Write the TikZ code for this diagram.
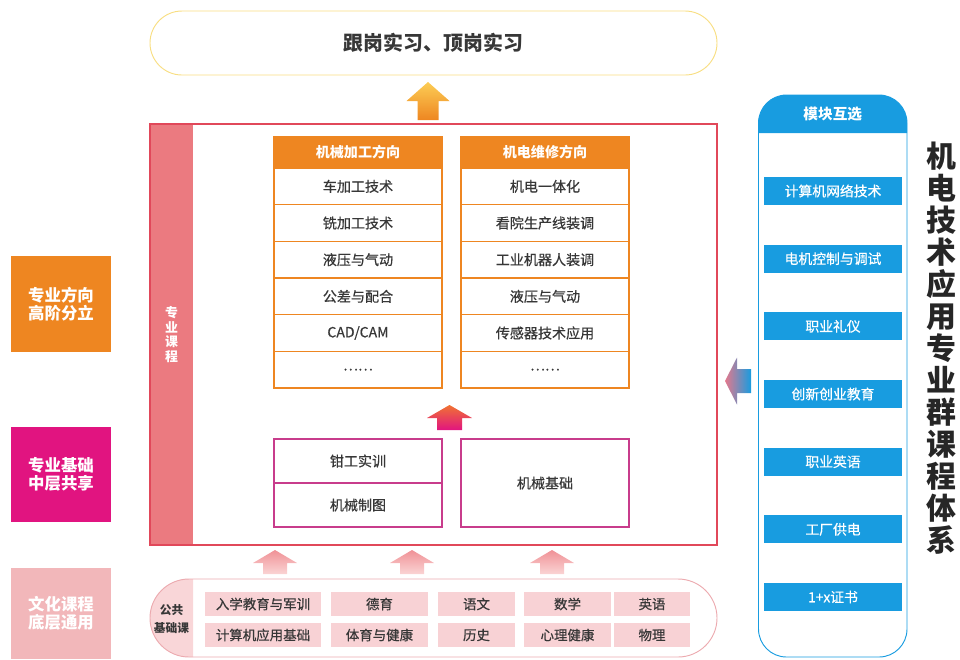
\documentclass[tikz,border=0pt]{standalone}
\usepackage{fontspec}
\setmainfont{Noto Sans CJK SC}[UprightFeatures={FakeBold=0.5}]
\usetikzlibrary{positioning}

\definecolor{dirorange}{RGB}{238,134,33}
\definecolor{basemag}{RGB}{225,20,128}
\definecolor{culpink}{RGB}{242,183,186}
\definecolor{bandred}{RGB}{235,122,128}
\definecolor{framered}{RGB}{225,72,90}
\definecolor{modblue}{RGB}{24,156,224}
\definecolor{cellpink}{RGB}{248,210,213}
\definecolor{publine}{RGB}{236,170,175}
\definecolor{pubfill}{RGB}{249,214,216}
\definecolor{basebd}{RGB}{200,60,140}
\definecolor{topline}{RGB}{248,222,130}
\definecolor{darktext}{RGB}{55,55,55}
\definecolor{arrowyel}{RGB}{252,205,85}
\definecolor{arroworg}{RGB}{240,115,50}
\definecolor{arrowtop}{RGB}{240,145,150}
\definecolor{arrowbot}{RGB}{250,212,212}
\definecolor{arrowpink}{RGB}{228,120,140}

\begin{document}
\begin{tikzpicture}[x=0.3mm, y=-0.3mm, every node/.style={outer sep=0pt},
  course/.style={draw=dirorange, line width=1pt, fill=white, minimum width=50.4mm, minimum height=11mm, inner sep=0pt, text=darktext, font=\fontsize{12}{14}\selectfont},
  dirhead/.style={course, fill=dirorange, minimum height=9.3mm, text=white, font=\fontsize{12}{14}\selectfont\bfseries},
  basecourse/.style={draw=basebd, line width=1pt, minimum width=50.4mm, minimum height=13.2mm, inner sep=0pt, text=darktext, font=\fontsize{12}{14}\selectfont},
  layer/.style={minimum width=30mm, inner sep=0pt, text=white, align=center, font=\fontsize{14}{15.5}\selectfont\bfseries},
  pubcell/.style={fill=cellpink, minimum height=7.2mm, inner sep=0pt, text=darktext, font=\fontsize{11.5}{13}\selectfont},
  module/.style={fill=modblue, minimum width=41.4mm, minimum height=8.4mm, inner sep=0pt, text=white, font=\fontsize{11.8}{13}\selectfont}]

\useasboundingbox (0,0) rectangle (960,659);

\node[draw=topline, line width=0.8pt, rounded corners=9.6mm, minimum width=170.1mm, minimum height=19.2mm, text=darktext, font=\fontsize{17}{20}\selectfont\bfseries] (intern) at (433.5,43) {跟岗实习、顶岗实习};

\shade[top color=arrowyel, bottom color=dirorange] (428,82) -- ++(21.5,19) -- ++(-11,0) -- ++(0,19) -- ++(-21,0) -- ++(0,-19) -- ++(-11,0) -- cycle;

\node[fill=bandred, minimum width=12.9mm, minimum height=126.3mm, text=white, align=center, font=\fontsize{11}{12.4}\selectfont\bfseries] (majorband) at (171.5,334.5) {专\\业\\课\\程};
\node[draw=framered, line width=1.2pt, minimum width=170.1mm, minimum height=126.3mm] (major) at (433.5,334.5) {};

\node[dirhead] (machhead) at (358,152.5) {机械加工方向};
\node[course, below=0pt of machhead] (mach1) {车加工技术};
\node[course, below=0pt of mach1] (mach2) {铣加工技术};
\node[course, below=0pt of mach2] (mach3) {液压与气动};
\node[course, below=0pt of mach3] (mach4) {公差与配合};
\node[course, below=0pt of mach4] (mach5) {CAD/CAM};
\node[course, below=0pt of mach5] (mach6) {……};

\node[dirhead] (elechead) at (545,152.5) {机电维修方向};
\node[course, below=0pt of elechead] (elec1) {机电一体化};
\node[course, below=0pt of elec1] (elec2) {看院生产线装调};
\node[course, below=0pt of elec2] (elec3) {工业机器人装调};
\node[course, below=0pt of elec3] (elec4) {液压与气动};
\node[course, below=0pt of elec4] (elec5) {传感器技术应用};
\node[course, below=0pt of elec5] (elec6) {……};

\shade[top color=arroworg, bottom color=basemag] (449.5,405) -- ++(22.5,13) -- ++(-10,0) -- ++(0,12) -- ++(-25,0) -- ++(0,-12) -- ++(-10,0) -- cycle;

\node[basecourse] (fitter) at (358,461) {钳工实训};
\node[basecourse, below=0pt of fitter] (drawing) {机械制图};
\node[basecourse, minimum height=26.4mm] (mechbase) at (545,483) {机械基础};

\node[layer, fill=dirorange, minimum height=28.8mm] (tierhigh) at (61,304) {专业方向\\高阶分立};
\node[layer, fill=basemag, minimum height=28.5mm] (tiermid) at (61,474.5) {专业基础\\中层共享};
\node[layer, fill=culpink, minimum height=27.3mm] (tierlow) at (61,613.5) {文化课程\\底层通用};

\shade[top color=arrowtop, bottom color=arrowbot] (275,550) -- ++(22,13) -- ++(-10,0) -- ++(0,11) -- ++(-24,0) -- ++(0,-11) -- ++(-10,0) -- cycle;
\shade[top color=arrowtop, bottom color=arrowbot] (412,550) -- ++(22,13) -- ++(-10,0) -- ++(0,11) -- ++(-24,0) -- ++(0,-11) -- ++(-10,0) -- cycle;
\shade[top color=arrowtop, bottom color=arrowbot] (552,550) -- ++(22,13) -- ++(-10,0) -- ++(0,11) -- ++(-24,0) -- ++(0,-11) -- ++(-10,0) -- cycle;

\scope
\clip (150,579) rectangle (193,657);
\fill[pubfill, rounded corners=11.7mm] (150,579) rectangle (717,657);
\endscope
\node[draw=publine, line width=0.8pt, rounded corners=11.7mm, minimum width=170.1mm, minimum height=23.4mm] (public) at (433.5,618) {};
\node[text=darktext, align=center, font=\fontsize{10}{16}\selectfont\bfseries] (publabel) at (171.5,619) {公共\\基础课};

\node[pubcell, minimum width=34.8mm] (pub11) at (263,604) {入学教育与军训};
\node[pubcell, minimum width=29.1mm] (pub12) at (379.5,604) {德育};
\node[pubcell, minimum width=23.1mm] (pub13) at (476.5,604) {语文};
\node[pubcell, minimum width=26.1mm] (pub14) at (567.5,604) {数学};
\node[pubcell, minimum width=22.8mm] (pub15) at (652,604) {英语};
\node[pubcell, minimum width=34.8mm, below=2.1mm of pub11] (pub21) {计算机应用基础};
\node[pubcell, minimum width=29.1mm, below=2.1mm of pub12] (pub22) {体育与健康};
\node[pubcell, minimum width=23.1mm, below=2.1mm of pub13] (pub23) {历史};
\node[pubcell, minimum width=26.1mm, below=2.1mm of pub14] (pub24) {心理健康};
\node[pubcell, minimum width=22.8mm, below=2.1mm of pub15] (pub25) {物理};

\node[draw=modblue, line width=0.8pt, rounded corners=8.4mm, minimum width=44.55mm, minimum height=168.6mm] (modpanel) at (832.75,376) {};
\fill[modblue] (758.5,133) [rounded corners=8.4mm] -- (758.5,95) -- (907,95) [sharp corners] -- (907,133) -- cycle;
\node[text=white, font=\fontsize{12.5}{14}\selectfont\bfseries] (modhead) at (832.75,114) {模块互选};

\node[module] (mod1) at (833,191) {计算机网络技术};
\node[module, below=11.9mm of mod1] (mod2) {电机控制与调试};
\node[module, below=11.9mm of mod2] (mod3) {职业礼仪};
\node[module, below=11.9mm of mod3] (mod4) {创新创业教育};
\node[module, below=11.9mm of mod4] (mod5) {职业英语};
\node[module, below=11.9mm of mod5] (mod6) {工厂供电};
\node[module, below=11.9mm of mod6] (mod7) {1+x证书};

\shade[left color=arrowpink, right color=modblue] (725,381) -- ++(12,-23.5) -- ++(0,11.5) -- ++(14,0) -- ++(0,24) -- ++(-14,0) -- ++(0,11.5) -- cycle;

\node[text=black!85, align=center, font=\fontsize{25.5}{27.3}\selectfont\bfseries] (title) at (941,348.5) {机\\电\\技\\术\\应\\用\\专\\业\\群\\课\\程\\体\\系};
\end{tikzpicture}
\end{document}
